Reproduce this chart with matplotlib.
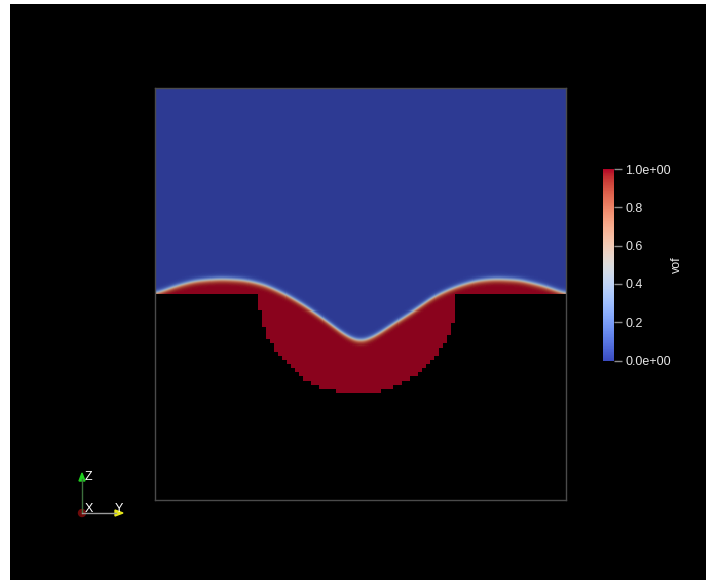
import numpy as np
import matplotlib
matplotlib.use("Agg")
import matplotlib.pyplot as plt
from matplotlib.colors import ListedColormap, Normalize
from matplotlib.patches import Polygon, Circle

plt.rcParams["font.family"] = ["Liberation Sans", "DejaVu Sans"]

# vof = 0.5 interface height z(y), domain is the unit square
interface_y = [0.000, 0.049, 0.097, 0.158, 0.219, 0.268, 0.316, 0.365, 0.414,
               0.462, 0.499, 0.535, 0.584, 0.633, 0.681, 0.730, 0.779, 0.827,
               0.888, 0.949, 1.000]
interface_z = [0.500, 0.519, 0.532, 0.537, 0.534, 0.522, 0.500, 0.471, 0.437,
               0.400, 0.382, 0.397, 0.430, 0.461, 0.495, 0.517, 0.532, 0.537,
               0.534, 0.519, 0.500]

# solid substrate with a round cavity, meshed on a 100 x 100 grid
free_surface_z = 0.5
cavity_center_y = 0.493
cavity_radius = 0.242
n_cells = 100

field_name = "vof"
cbar_ticks = [0.0, 0.2, 0.4, 0.6, 0.8, 1.0]
cbar_labels = ["0.0e+00", "0.2", "0.4", "0.6", "0.8", "1.0e+00"]


def build_field(n_fine=400, width=0.0065):
    centers = (np.arange(n_fine) + 0.5) / n_fine
    Y, Z = np.meshgrid(centers, centers)
    h = np.interp(centers, interface_y, interface_z)
    # soften the corners of the piecewise-linear interface
    k = np.exp(-0.5 * (np.arange(-18, 19) / 6.0) ** 2)
    k /= k.sum()
    h = np.convolve(np.pad(h, 18, mode="edge"), k, mode="valid")
    vof = 0.5 * (1 - np.tanh((Z - h[None, :]) / width))
    cy = (np.floor(Y * n_cells) + 0.5) / n_cells
    cz = (np.floor(Z * n_cells) + 0.5) / n_cells
    solid = (cz < free_surface_z) & (
        (cy - cavity_center_y) ** 2 + (cz - free_surface_z) ** 2 > cavity_radius ** 2
    )
    return np.ma.masked_where(solid, vof)


def main():
    W, H = 706, 580
    fig = plt.figure(figsize=(W / 100, H / 100), dpi=100)
    fig.patch.set_facecolor("white")

    bg = fig.add_axes([10 / W, 0, 1 - 10 / W, 1 - 4 / H])
    bg.set_facecolor("black")
    bg.set_xticks([])
    bg.set_yticks([])
    for s in bg.spines.values():
        s.set_visible(False)

    # shaded surface colours are darker than the legend
    colors = plt.get_cmap("coolwarm")(np.linspace(0, 1, 256))
    colors[:, :3] *= 0.77
    shaded = ListedColormap(colors)

    ax = fig.add_axes([155 / W, 1 - 500 / H, 411 / W, 412 / H])
    ax.set_facecolor("black")
    ax.imshow(build_field(), extent=[0, 1, 0, 1], origin="lower", cmap=shaded,
              vmin=0, vmax=1, interpolation="nearest", aspect="auto")
    ax.set_xticks([])
    ax.set_yticks([])
    for s in ax.spines.values():
        s.set_color("#4a4a4a")
        s.set_linewidth(1)

    cax = fig.add_axes([603 / W, 1 - 360.5 / H, 11 / W, 191.5 / H])
    sm = plt.cm.ScalarMappable(cmap="coolwarm", norm=Normalize(0, 1))
    cb = fig.colorbar(sm, cax=cax, ticks=cbar_ticks)
    cb.set_ticklabels(cbar_labels)
    cb.outline.set_visible(False)
    cax.tick_params(colors="#8a8a8a", length=6, width=1, pad=2,
                    labelsize=9, labelcolor="#e6e6e6")
    fig.text(677 / W, 1 - 265 / H, field_name, rotation=90, color="#e6e6e6",
             fontsize=9, ha="center", va="center")

    # orientation triad
    ov = fig.add_axes([0, 0, 1, 1])
    ov.set_xlim(0, W)
    ov.set_ylim(H, 0)
    ov.axis("off")
    ov.patch.set_alpha(0)
    ox, oy = 82, 513
    ov.plot([ox, ox], [oy, 479], color="#3c6e3c", lw=1)
    ov.plot([ox, 116], [oy, oy], color="#9a9a9a", lw=1)
    ov.add_patch(Polygon([[ox, 473], [ox - 3, 481], [ox + 3, 481]],
                         closed=True, color="#1fcf1f"))
    ov.add_patch(Polygon([[123, oy], [115, oy - 3], [115, oy + 3]],
                         closed=True, color="#e6e61a"))
    ov.add_patch(Circle((ox, oy), 3.5, color="#6e0a0a"))
    ov.text(85, 477, "Z", color="white", fontsize=9, ha="left", va="center")
    ov.text(85, 509, "X", color="white", fontsize=9, ha="left", va="center")
    ov.text(115, 509, "Y", color="white", fontsize=9, ha="left", va="center")

    fig.savefig("out.png", dpi=100, facecolor=fig.get_facecolor())
    plt.close(fig)


if __name__ == "__main__":
    main()
